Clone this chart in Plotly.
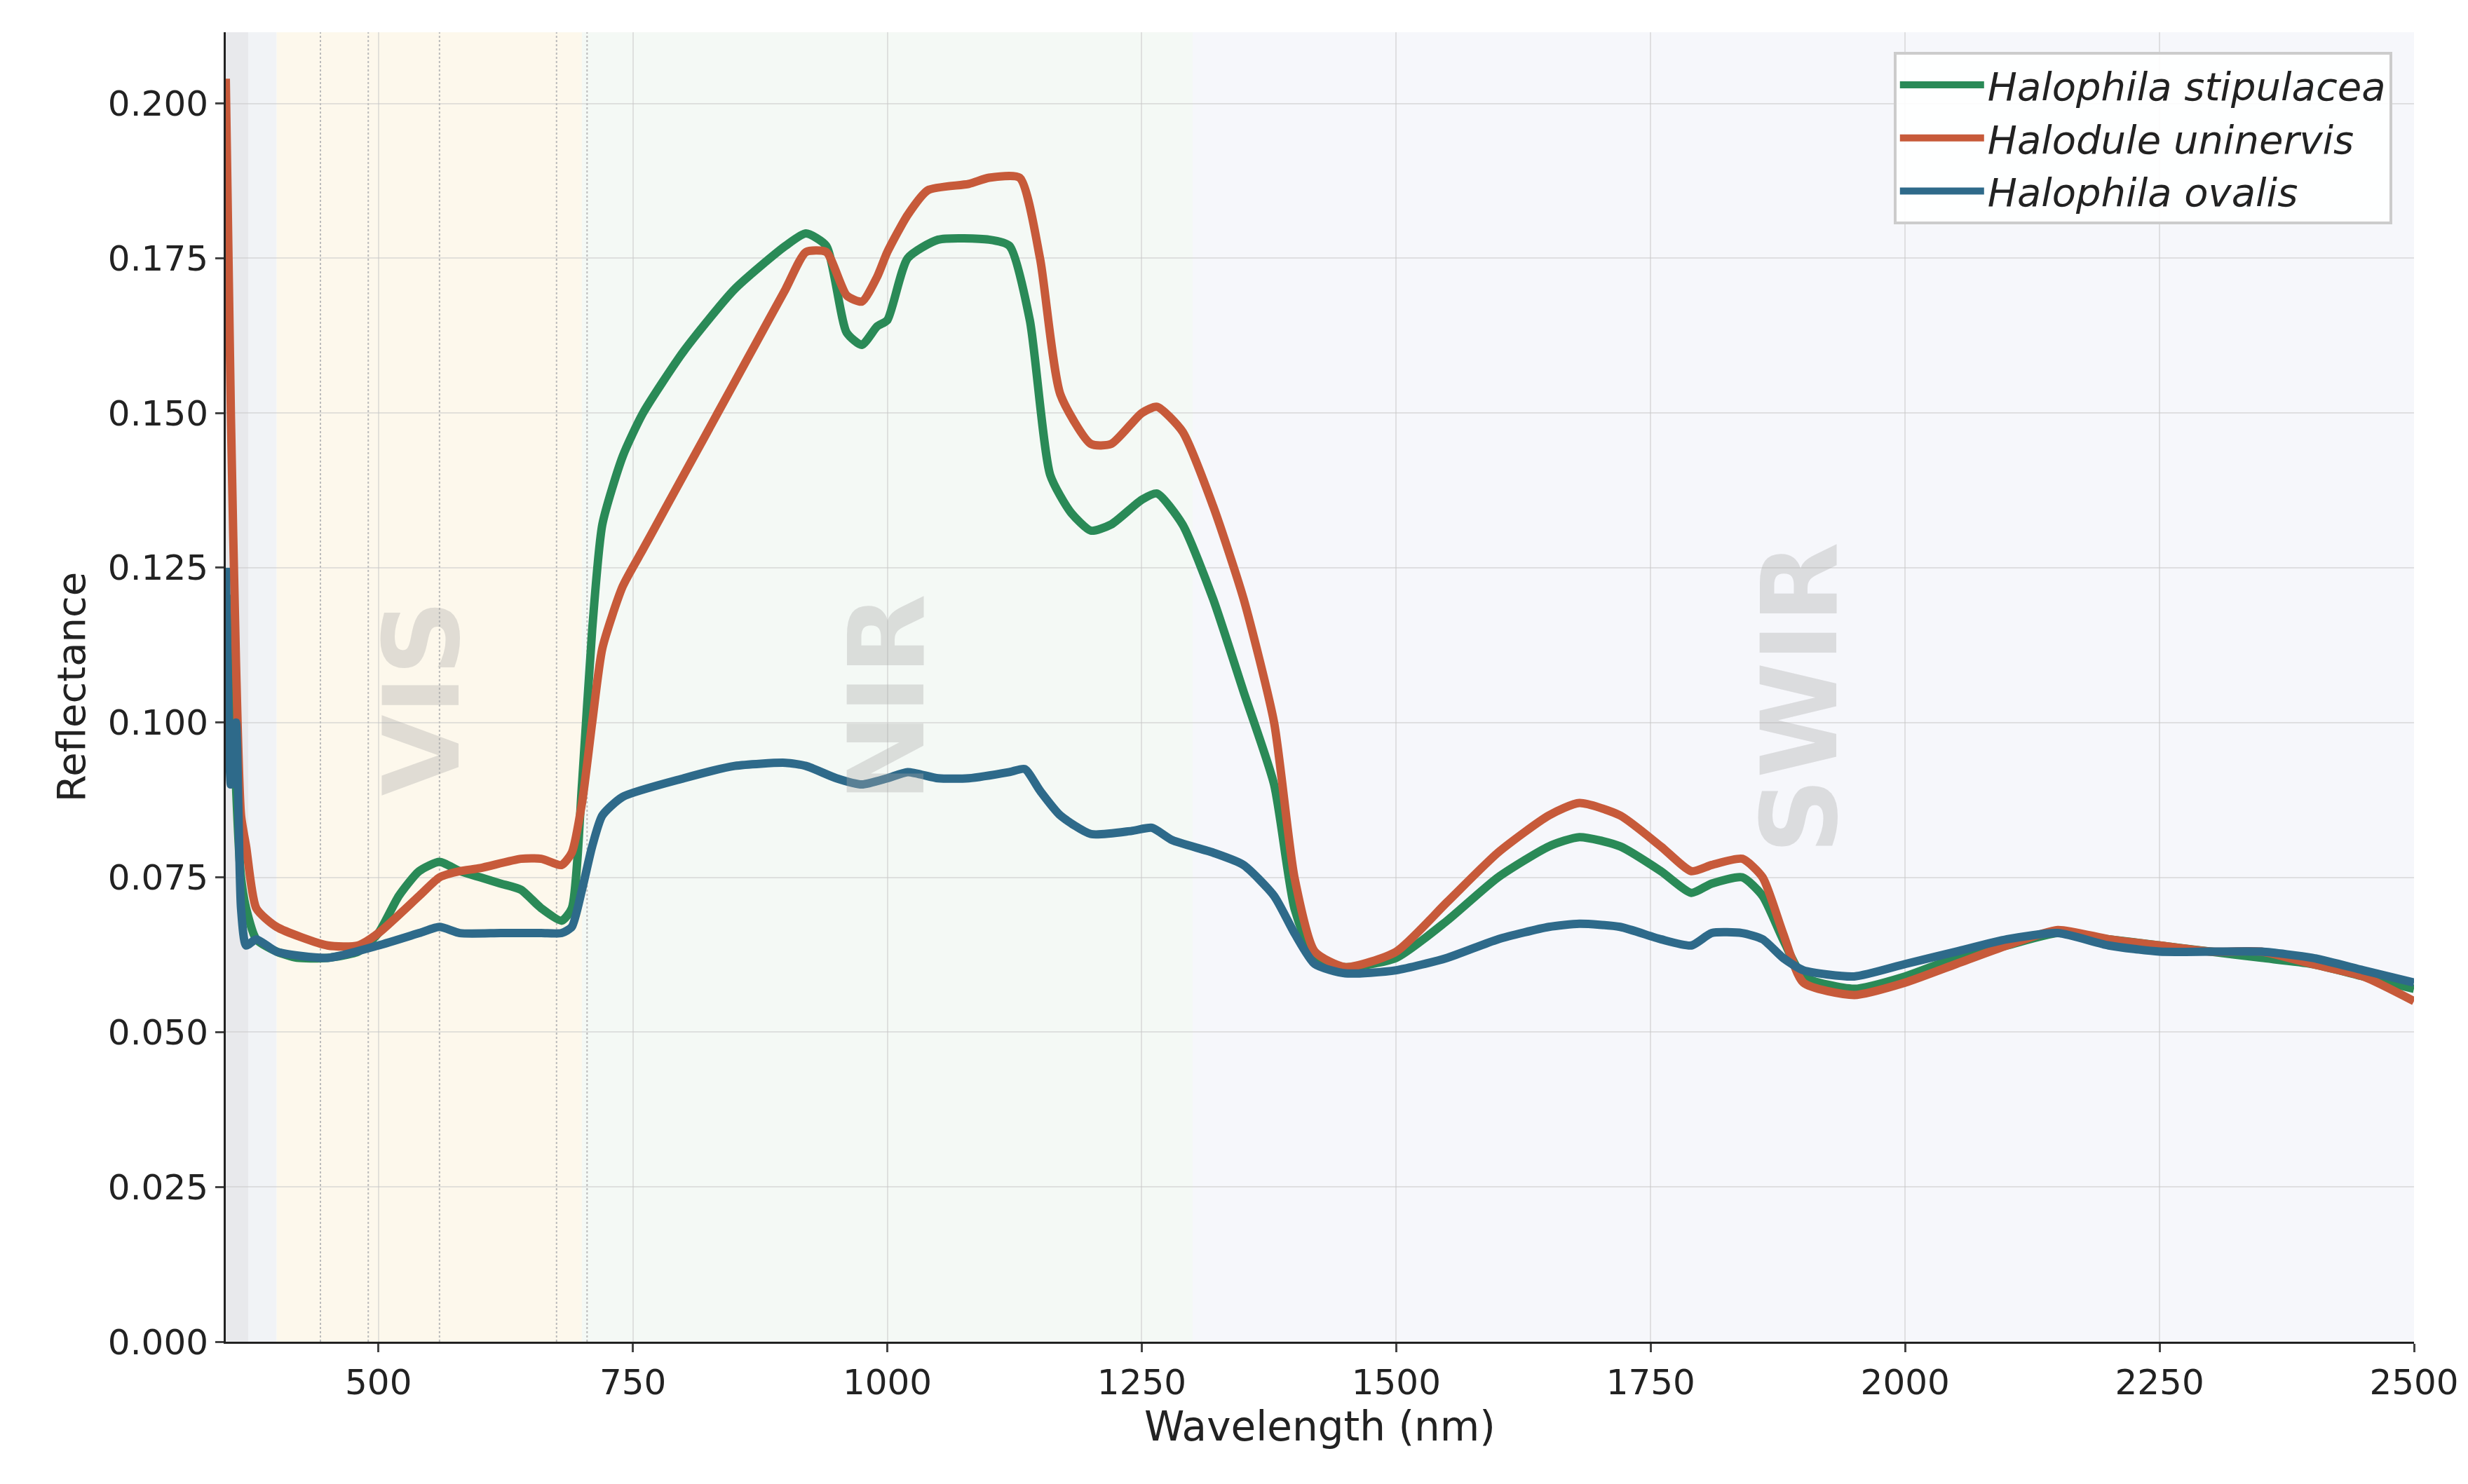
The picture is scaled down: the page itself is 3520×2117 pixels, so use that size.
import plotly.graph_objects as go

# spectra
wl_green = [350, 355, 360, 365, 370, 380, 400, 420, 450, 480, 500, 520, 540, 560, 580, 600, 620, 640, 660, 680, 690, 700, 710, 720, 740, 760, 800, 850, 900, 920, 940, 960, 975, 990, 1000, 1020, 1050, 1100, 1120, 1140, 1160, 1180, 1200, 1220, 1250, 1265, 1290, 1320, 1350, 1380, 1400, 1420, 1450, 1500, 1550, 1600, 1650, 1680, 1720, 1760, 1790, 1810, 1840, 1860, 1880, 1900, 1950, 2000, 2050, 2100, 2150, 2200, 2250, 2300, 2350, 2400, 2450, 2500]
refl_green = [0.100, 0.120, 0.090, 0.075, 0.070, 0.065, 0.063, 0.062, 0.062, 0.063, 0.066, 0.072, 0.076, 0.0775, 0.076, 0.075, 0.074, 0.073, 0.070, 0.068, 0.070, 0.090, 0.115, 0.132, 0.143, 0.150, 0.160, 0.170, 0.177, 0.179, 0.177, 0.163, 0.161, 0.164, 0.165, 0.175, 0.178, 0.178, 0.177, 0.165, 0.140, 0.134, 0.131, 0.132, 0.136, 0.137, 0.132, 0.120, 0.105, 0.090, 0.070, 0.062, 0.0605, 0.062, 0.068, 0.075, 0.080, 0.0815, 0.080, 0.076, 0.0725, 0.074, 0.075, 0.072, 0.065, 0.059, 0.057, 0.059, 0.062, 0.064, 0.066, 0.065, 0.064, 0.063, 0.062, 0.061, 0.059, 0.057]

wl_red = [350, 355, 360, 365, 370, 380, 400, 450, 480, 500, 540, 560, 580, 600, 640, 660, 680, 690, 700, 710, 720, 740, 760, 780, 820, 870, 900, 920, 940, 960, 975, 990, 1000, 1020, 1040, 1080, 1100, 1130, 1150, 1170, 1200, 1220, 1250, 1265, 1290, 1320, 1350, 1380, 1400, 1420, 1450, 1500, 1550, 1600, 1650, 1680, 1720, 1760, 1790, 1810, 1840, 1860, 1880, 1900, 1950, 2000, 2050, 2100, 2150, 2200, 2250, 2300, 2350, 2400, 2450, 2500]
refl_red = [0.204, 0.150, 0.110, 0.085, 0.080, 0.070, 0.067, 0.064, 0.064, 0.066, 0.072, 0.075, 0.076, 0.0765, 0.078, 0.078, 0.077, 0.079, 0.087, 0.100, 0.112, 0.122, 0.128, 0.134, 0.146, 0.161, 0.170, 0.176, 0.176, 0.169, 0.168, 0.172, 0.176, 0.182, 0.186, 0.187, 0.188, 0.188, 0.175, 0.153, 0.145, 0.145, 0.150, 0.151, 0.147, 0.135, 0.120, 0.100, 0.075, 0.063, 0.0605, 0.063, 0.071, 0.079, 0.085, 0.087, 0.085, 0.080, 0.076, 0.077, 0.078, 0.075, 0.066, 0.058, 0.056, 0.058, 0.061, 0.064, 0.0665, 0.065, 0.064, 0.063, 0.063, 0.061, 0.059, 0.055]

wl_blue = [350, 355, 360, 365, 370, 380, 400, 450, 500, 540, 560, 580, 620, 660, 680, 690, 700, 710, 720, 740, 800, 850, 900, 920, 950, 975, 1000, 1020, 1050, 1080, 1120, 1135, 1150, 1170, 1200, 1240, 1260, 1280, 1320, 1350, 1380, 1400, 1420, 1450, 1500, 1550, 1600, 1650, 1680, 1720, 1760, 1790, 1810, 1840, 1860, 1880, 1900, 1950, 2000, 2050, 2100, 2150, 2200, 2250, 2300, 2350, 2400, 2450, 2500]
refl_blue = [0.125, 0.090, 0.100, 0.070, 0.064, 0.065, 0.063, 0.062, 0.064, 0.066, 0.067, 0.066, 0.066, 0.066, 0.066, 0.067, 0.073, 0.080, 0.085, 0.088, 0.091, 0.093, 0.0935, 0.093, 0.091, 0.090, 0.091, 0.092, 0.091, 0.091, 0.092, 0.0925, 0.089, 0.085, 0.082, 0.0825, 0.083, 0.081, 0.079, 0.077, 0.072, 0.066, 0.061, 0.0595, 0.060, 0.062, 0.065, 0.067, 0.0675, 0.067, 0.065, 0.064, 0.066, 0.066, 0.065, 0.062, 0.060, 0.059, 0.061, 0.063, 0.065, 0.066, 0.064, 0.063, 0.063, 0.063, 0.062, 0.060, 0.058]

band_lines = [443, 490, 560, 675, 705]
regions = ["VIS", "NIR", "SWIR"]
region_centers = [543, 1000, 1897]

fig = go.Figure()

# background bands
fig.add_vrect(x0=350, x1=372, fillcolor="#d9dbe0", opacity=0.6, line_width=0, layer="below")
fig.add_vrect(x0=372, x1=400, fillcolor="#eef0f4", opacity=0.8, line_width=0, layer="below")
fig.add_vrect(x0=400, x1=700, fillcolor="#fdf8ec", opacity=1, line_width=0, layer="below")
fig.add_vrect(x0=700, x1=1300, fillcolor="#f4f9f5", opacity=1, line_width=0, layer="below")
fig.add_vrect(x0=1300, x1=2500, fillcolor="#f6f7fb", opacity=1, line_width=0, layer="below")
for b in band_lines:
    fig.add_vline(x=b, line=dict(color="#bbbbbb", width=2, dash="dot"), layer="below")

for name, c in zip(regions, region_centers):
    fig.add_annotation(x=c, y=0.104, text="<b>%s</b>" % name, showarrow=False, textangle=-90,
                       font=dict(size=150, color="rgba(170,170,170,0.35)", family="DejaVu Sans"))

for name, x, y, col in [("Halophila stipulacea", wl_green, refl_green, "#2a8a57"),
                        ("Halodule uninervis", wl_red, refl_red, "#c75a3a"),
                        ("Halophila ovalis", wl_blue, refl_blue, "#2e6a8a")]:
    fig.add_trace(go.Scatter(x=x, y=y, mode="lines", name="<i>%s</i>" % name,
                             line=dict(color=col, width=12, shape="spline", smoothing=0.6)))

fig.update_layout(
    width=3520, height=2117,
    margin=dict(l=314, r=85, t=38, b=211),
    paper_bgcolor="white", plot_bgcolor="white",
    font=dict(family="DejaVu Sans", size=50, color="#222222"),
    legend=dict(x=0.99, y=0.985, xanchor="right", yanchor="top",
                bgcolor="rgba(255,255,255,0.9)", bordercolor="#cccccc", borderwidth=4,
                font=dict(size=56), itemwidth=120, tracegroupgap=10),
)
fig.update_xaxes(range=[350, 2500], tickvals=[500, 750, 1000, 1250, 1500, 1750, 2000, 2250, 2500],
                 title=dict(text="Wavelength (nm)", font=dict(size=58)),
                 showline=True, linecolor="#222", linewidth=3, ticks="outside", ticklen=12, tickwidth=3,
                 showgrid=True, gridcolor="rgba(200,200,200,0.5)", gridwidth=2, zeroline=False)
fig.update_yaxes(range=[0, 0.2115], tickvals=[0, 0.025, 0.05, 0.075, 0.1, 0.125, 0.15, 0.175, 0.2],
                 tickformat=".3f", title=dict(text="Reflectance", font=dict(size=56)),
                 showline=True, linecolor="#222", linewidth=3, ticks="outside", ticklen=12, tickwidth=3,
                 showgrid=True, gridcolor="rgba(200,200,200,0.5)", gridwidth=2, zeroline=False)

fig.write_html("out.html")
